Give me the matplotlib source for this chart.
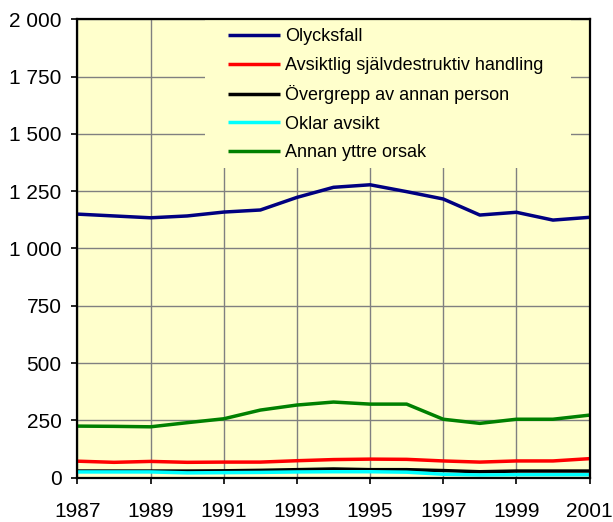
import matplotlib
matplotlib.use("Agg")
import matplotlib.pyplot as plt
from matplotlib.patches import Rectangle
from matplotlib.ticker import FuncFormatter, MultipleLocator

plt.rcParams['font.family'] = ['Liberation Sans', 'DejaVu Sans']

years = list(range(1987, 2002))
year_ticks = list(range(1987, 2002, 2))

olycksfall = [1150, 1142, 1134, 1142, 1159, 1168, 1223, 1267, 1278, 1248, 1216, 1146, 1158, 1124, 1136]
avsiktlig = [72, 67, 71, 67, 68, 68, 74, 79, 81, 80, 73, 68, 73, 73, 83]
overgrepp = [29, 29, 29, 29, 30, 32, 35, 38, 35, 35, 31, 26, 29, 29, 29]
oklar = [25, 25, 25, 21, 22, 23, 25, 26, 26, 24, 15, 12, 13, 13, 13]
annan = [225, 224, 222, 240, 257, 295, 317, 330, 321, 321, 255, 237, 255, 255, 273]

series = [
    ("Olycksfall", olycksfall, "#000080"),
    ("Avsiktlig självdestruktiv handling", avsiktlig, "#FF0000"),
    ("Övergrepp av annan person", overgrepp, "#000000"),
    ("Oklar avsikt", oklar, "#00FFFF"),
    ("Annan yttre orsak", annan, "#008000"),
]

fig = plt.figure(figsize=(6.13, 5.22), dpi=100)
ax = fig.add_axes([0.1264, 0.0849, 0.8353, 0.8781])
ax.set_facecolor("#FFFFCC")

for name, vals, col in series:
    ax.plot(years, vals, color=col, lw=2.5, label=name, solid_capstyle='butt', zorder=3)

ax.set_xlim(1987, 2001)
ax.set_ylim(0, 2000)
ax.set_xticks(year_ticks)
ax.set_xticklabels([str(y) for y in year_ticks])
ax.yaxis.set_major_locator(MultipleLocator(250))
ax.yaxis.set_major_formatter(FuncFormatter(lambda v, p: f"{int(v):,}".replace(",", " ")))
ax.grid(True, color="#808080", lw=1.0, zorder=1)
ax.set_axisbelow(True)

for s in ax.spines.values():
    s.set_color("black")
    s.set_linewidth(1.6)
    s.set_zorder(4)

ax.tick_params(axis='both', direction='out', length=4.5, width=1.2, labelsize=15, colors='black')
ax.tick_params(axis='y', pad=7.0)
ax.tick_params(axis='x', pad=13)

# legend area masks the gridlines behind it
ax.add_patch(Rectangle((0.249, 0.6756), 0.715, 0.3244, transform=ax.transAxes,
                       facecolor="#FFFFCC", edgecolor='none', zorder=2))

leg = ax.legend(loc='upper left', bbox_to_anchor=(0.294, 0.980), frameon=False,
                fontsize=13, handlelength=2.88, handletextpad=0.28, labelspacing=0.63,
                borderaxespad=0, borderpad=0)
for h in leg.get_lines():
    h.set_linewidth(2.5)
leg.set_zorder(5)

fig.savefig("out.png", dpi=100)
